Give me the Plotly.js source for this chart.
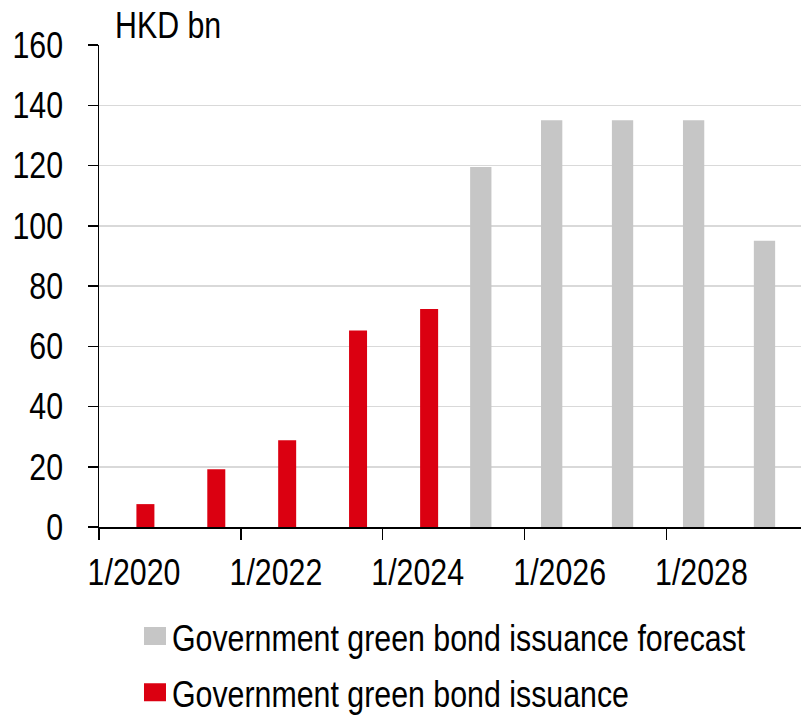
<!DOCTYPE html>
<html>
<head>
<meta charset="utf-8">
<script src="https://cdn.plot.ly/plotly-3.0.1.min.js"></script>
<style>html,body{margin:0;padding:0;background:#fff;}#chart{width:805px;height:715px;}</style>
</head>
<body>
<div id="chart"></div>
<script>
// Data
const issuanceDates = ['2020-08-27', '2021-08-27', '2022-08-27', '2023-08-27', '2024-08-27'];
const issuanceValues = [7.6, 19.2, 28.8, 65.2, 72.4];
const forecastDates = ['2025-05-20', '2026-05-20', '2027-05-20', '2028-05-20', '2029-05-20'];
const forecastValues = [119.5, 135, 135, 135, 95];
const tickDates = ['2020-01-01', '2022-01-01', '2024-01-01', '2026-01-01', '2028-01-01'];
const tickLabels = ['1/2020', '1/2022', '1/2024', '1/2026', '1/2028'];
const unitLabel = 'HKD bn';
const forecastName = 'Government green bond issuance forecast';
const issuanceName = 'Government green bond issuance';

const DAY = 86400000;
const FONT = '"Liberation Sans", Arial, sans-serif';
const CONDENSE = 0.82;

const traces = [
  {
    type: 'bar', name: forecastName, x: forecastDates, y: forecastValues,
    width: forecastDates.map(() => 109.7 * DAY), legendgroup: 'f',
    marker: {color: '#C6C6C6', line: {width: 0}},
    hoverinfo: 'x+y'
  },
  {
    type: 'bar', name: issuanceName, x: issuanceDates, y: issuanceValues,
    width: issuanceDates.map(() => 92.7 * DAY), legendgroup: 'i',
    marker: {color: '#DB0011', line: {width: 0}},
    hoverinfo: 'x+y'
  }
];

const layout = {
  width: 805, height: 715,
  margin: {l: 99, r: 4, t: 45, b: 188, autoexpand: false},
  paper_bgcolor: '#fff', plot_bgcolor: '#fff',
  font: {family: FONT, size: 37, color: '#000'},
  barmode: 'overlay',
  showlegend: true,
  legend: {
    orientation: 'v', x: 0.047, xanchor: 'left', y: -0.163, yanchor: 'top',
    xref: 'paper', yref: 'paper',
    font: {family: FONT, size: 37, color: '#000'},
    bgcolor: 'rgba(0,0,0,0)', traceorder: 'grouped', tracegroupgap: 5
  },
  xaxis: {
    type: 'date', automargin: false,
    range: ['2020-01-01', '2029-11-24'],
    tickvals: tickDates, ticktext: tickLabels, tickangle: 0,
    ticks: 'outside', ticklen: 11, tickwidth: 1.5, tickcolor: '#000',
    showline: true, linecolor: '#000', linewidth: 1.5,
    showgrid: false, zeroline: false,
    ticklabelshift: 35, ticklabelstandoff: 1,
    tickfont: {family: FONT, size: 37, color: '#000'}
  },
  yaxis: {
    range: [0, 160], dtick: 20, tick0: 0, automargin: false,
    ticks: 'outside', ticklen: 10, tickwidth: 1.5, tickcolor: '#000',
    showline: true, linecolor: '#000', linewidth: 1.5,
    showgrid: true, gridcolor: '#D9D9D9', gridwidth: 1.5,
    zeroline: false,
    ticklabelstandoff: 17,
    tickfont: {family: FONT, size: 37, color: '#000'}
  },
  annotations: [{
    text: unitLabel, xref: 'paper', yref: 'paper', x: 0.02, y: 1.0, yshift: 20,
    xanchor: 'left', yanchor: 'middle', align: 'left', showarrow: false,
    font: {family: FONT, size: 37, color: '#000'}
  }]
};

function condenseText(root) {
  root.querySelectorAll('svg text').forEach(t => {
    const x = parseFloat(t.getAttribute('x')) || 0;
    const y = parseFloat(t.getAttribute('y')) || 0;
    const tr = t.getAttribute('transform') || '';
    t.setAttribute('transform', tr + ' translate(' + x + ',' + y + ') scale(' + CONDENSE + ',1) translate(' + (-x) + ',' + (-y) + ')');
  });
}

Plotly.newPlot('chart', traces, layout, {displayModeBar: false, staticPlot: true}).then(gd => {
  gd.querySelectorAll('.legend .legendpoints path').forEach(p => {
    p.setAttribute('d', 'M-11,-9H11V9H-11Z');
    p.setAttribute('transform', 'translate(23,0)');
  });
  condenseText(gd);
});
</script>
</body>
</html>
